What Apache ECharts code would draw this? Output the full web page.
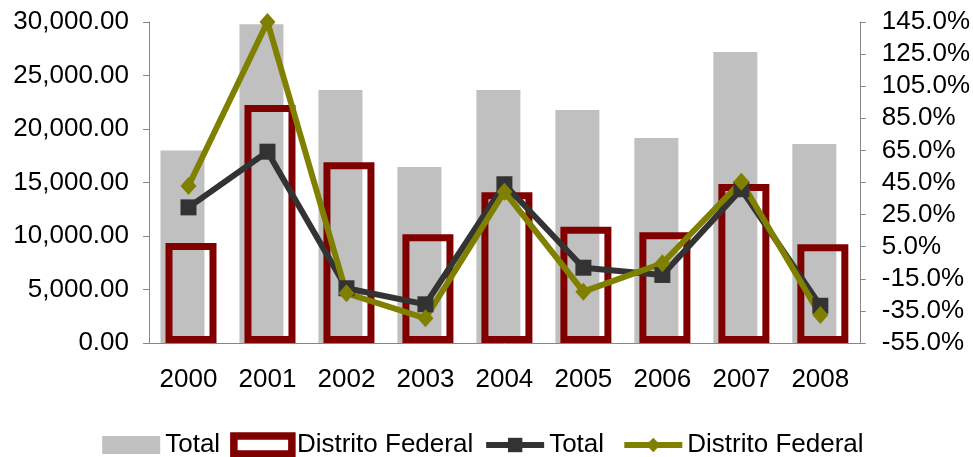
<!DOCTYPE html>
<html>
<head>
<meta charset="utf-8">
<script src="https://cdn.jsdelivr.net/npm/echarts@6/dist/echarts.min.js"></script>
<style>
  html, body { margin: 0; padding: 0; background: #fff; }
  #chart { width: 973px; height: 457px; }
</style>
</head>
<body>
<div id="chart"></div>
<script>
// valores
const years = ['2000', '2001', '2002', '2003', '2004', '2005', '2006', '2007', '2008'];
const totalValues = [18000, 29800, 23650, 16450, 23650, 21780, 19160, 27200, 18600];
const dfValues = [9350, 22240, 16890, 10160, 14080, 10870, 10350, 14860, 9220];
const totalGrowth = [29.5, 64.2, -20.9, -30.9, 43.9, -8.1, -12.6, 40.8, -31.8];
const dfGrowth = [42.8, 145.0, -24.0, -39.6, 39.3, -23.0, -5.3, 45.5, -37.6];
const pctTicks = [-55, -35, -15, 5, 25, 45, 65, 85, 105, 125, 145];

const font = 'Liberation Sans, Arial, sans-serif';
const axisColor = '#868686';

const chart = echarts.init(document.getElementById('chart'));

const option = {
    animation: false,
    textStyle: {fontFamily: font},
    grid: {left: 149, right: 111, top: 22, bottom: 114},
    legend: {
        top: 432,
        left: 'center',
        padding: 0,
        itemWidth: 58,
        itemHeight: 18,
        itemGap: 10,
        textStyle: {fontSize: 26, color: '#000', fontFamily: font},
        data: [
            {name: 'Total', icon: 'rect'},
            {name: 'Distrito Federal', icon: 'rect',
             itemStyle: {color: '#fff', borderColor: '#800000', borderWidth: 7.5}},
            {name: 'Total ', lineStyle: {width: 6}},
            {name: 'Distrito Federal ', lineStyle: {width: 6}}
        ]
    },
    xAxis: {
        type: 'category',
        data: years,
        axisLine: {lineStyle: {color: axisColor, width: 1}},
        axisTick: {length: 6, lineStyle: {color: axisColor}},
        axisLabel: {fontSize: 26, color: '#000', margin: 24}
    },
    yAxis: [
        {
            type: 'value',
            min: 0,
            max: 30000,
            interval: 5000,
            splitLine: {show: false},
            axisLine: {show: true, lineStyle: {color: axisColor}},
            axisTick: {show: true, length: 6, lineStyle: {color: axisColor}},
            axisLabel: {
                fontSize: 26, color: '#000', margin: 20,
                formatter: v => v.toLocaleString('en-US', {minimumFractionDigits: 2, maximumFractionDigits: 2})
            }
        },
        {
            type: 'value',
            min: -55,
            max: 145,
            splitLine: {show: false},
            axisLine: {show: true, lineStyle: {color: axisColor}},
            axisTick: {show: true, length: 6, lineStyle: {color: axisColor}, customValues: pctTicks},
            axisLabel: {
                fontSize: 26, color: '#000', margin: 22,
                customValues: pctTicks,
                formatter: v => v.toFixed(1) + '%'
            }
        }
    ],
    series: [
        {
            name: 'Total',
            type: 'bar',
            barWidth: 44,
            barGap: '-88.6%',
            itemStyle: {color: '#C0C0C0'},
            data: totalValues
        },
        {
            name: 'Distrito Federal',
            type: 'bar',
            barWidth: 51,
            itemStyle: {color: 'rgba(255,255,255,0)', borderColor: '#800000', borderWidth: 7},
            data: dfValues
        },
        {
            name: 'Total ',
            type: 'line',
            yAxisIndex: 1,
            symbol: 'rect',
            symbolSize: 16,
            color: '#333333',
            lineStyle: {width: 6, color: '#333333'},
            itemStyle: {color: '#333333'},
            data: totalGrowth
        },
        {
            name: 'Distrito Federal ',
            type: 'line',
            yAxisIndex: 1,
            symbol: 'diamond',
            symbolSize: [16, 18],
            color: '#808000',
            lineStyle: {width: 6, color: '#808000'},
            itemStyle: {color: '#808000'},
            data: dfGrowth
        }
    ]
};

chart.setOption(option);
</script>
</body>
</html>
